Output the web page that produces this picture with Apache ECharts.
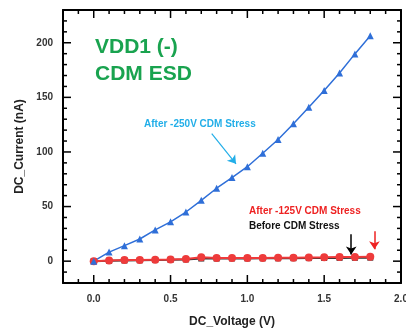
<!DOCTYPE html>
<html>
<head>
<meta charset="utf-8">
<script src="https://cdn.jsdelivr.net/npm/echarts@6/dist/echarts.min.js"></script>
<style>
html, body { margin: 0; padding: 0; background: #fff; }
#chart { width: 406px; height: 329px; }
</style>
</head>
<body>
<div id="chart"></div>
<script>
// voltage steps (V)
var voltage = [0, 0.1, 0.2, 0.3, 0.4, 0.5, 0.6, 0.7, 0.8, 0.9, 1.0, 1.1, 1.2, 1.3, 1.4, 1.5, 1.6, 1.7, 1.8];
// current (nA)
var after250 = [0, 8.3, 14.2, 20.3, 28.6, 36, 45, 55.7, 66.8, 76.6, 86.5, 98.8, 111.4, 125.8, 140.9, 156.3, 172.3, 189.8, 206.5];
var after125 = [0, 0.6, 1, 1.1, 1.3, 1.5, 2, 3.6, 3, 3, 3, 3, 3.1, 3.2, 3.4, 3.5, 3.7, 3.9, 4];
var before = [0, 0.3, 0.6, 0.8, 1, 1.2, 1.6, 2.4, 2.4, 2.5, 2.5, 2.6, 2.6, 2.7, 2.8, 2.9, 3, 3.1, 3.2];
// tick marks
var xLabels = [0, 0.5, 1.0, 1.5, 2.0];
var yLabels = [0, 50, 100, 150, 200];
var xTicks = [-0.1, 0, 0.1, 0.2, 0.3, 0.4, 0.5, 0.6, 0.7, 0.8, 0.9, 1.0, 1.1, 1.2, 1.3, 1.4, 1.5, 1.6, 1.7, 1.8, 1.9];
var yTicks = [-10, 0, 10, 20, 30, 40, 50, 60, 70, 80, 90, 100, 110, 120, 130, 140, 150, 160, 170, 180, 190, 200, 210, 220];

var X_MIN = -0.2, X_MAX = 2.0, Y_MIN = -20, Y_MAX = 230;

function pairs(ys) {
    var out = [];
    for (var i = 0; i < voltage.length; i++) out.push([voltage[i], ys[i]]);
    return out;
}
function isMajor(v, list) {
    for (var i = 0; i < list.length; i++) if (Math.abs(list[i] - v) < 1e-6) return true;
    return false;
}

var chart = echarts.init(document.getElementById('chart'));
var font = 'Liberation Sans, Arial, sans-serif';
var tickLine = {stroke: '#000', lineWidth: 1.5};

function renderXTick(params, api) {
    var v = api.value(0);
    var len = isMajor(v, xLabels) ? 8 : 4;
    var b = api.coord([v, Y_MIN]);
    var t = api.coord([v, Y_MAX]);
    return {type: 'group', children: [
        {type: 'line', shape: {x1: b[0], y1: b[1], x2: b[0], y2: b[1] - len}, style: tickLine},
        {type: 'line', shape: {x1: t[0], y1: t[1], x2: t[0], y2: t[1] + len}, style: tickLine}
    ]};
}
function renderYTick(params, api) {
    var v = api.value(1);
    var len = isMajor(v, yLabels) ? 8 : 4;
    var l = api.coord([X_MIN, v]);
    var r = api.coord([X_MAX, v]);
    return {type: 'group', children: [
        {type: 'line', shape: {x1: l[0], y1: l[1], x2: l[0] + len, y2: l[1]}, style: tickLine},
        {type: 'line', shape: {x1: r[0], y1: r[1], x2: r[0] - len, y2: r[1]}, style: tickLine}
    ]};
}

var axisLine = {show: true, onZero: false, lineStyle: {color: '#000', width: 2}};
var labelStyle = {margin: 11, color: '#333', fontWeight: 'bold', fontSize: 10, fontFamily: font};

var option = {
    animation: false,
    grid: {left: 63, right: 5, top: 10, bottom: 46, containLabel: false, outerBoundsMode: 'none'},
    xAxis: [
        {
            type: 'value', position: 'bottom', min: X_MIN, max: X_MAX,
            axisLine: axisLine, axisTick: {show: false}, splitLine: {show: false},
            axisLabel: Object.assign({customValues: xLabels, formatter: function (v) { return v.toFixed(1); }}, labelStyle),
            name: 'DC_Voltage (V)', nameLocation: 'middle', nameGap: 33,
            nameTextStyle: {color: '#222', fontWeight: 'bold', fontSize: 12, fontFamily: font}
        },
        {
            type: 'value', position: 'top', min: X_MIN, max: X_MAX,
            axisLine: axisLine, axisTick: {show: false}, splitLine: {show: false}, axisLabel: {show: false}
        }
    ],
    yAxis: [
        {
            type: 'value', position: 'left', min: Y_MIN, max: Y_MAX,
            axisLine: axisLine, axisTick: {show: false}, splitLine: {show: false},
            axisLabel: Object.assign({customValues: yLabels}, labelStyle, {margin: 10}),
            name: 'DC_Current (nA)', nameLocation: 'middle', nameGap: 34,
            nameTextStyle: {color: '#222', fontWeight: 'bold', fontSize: 12, fontFamily: font}
        },
        {
            type: 'value', position: 'right', min: Y_MIN, max: Y_MAX,
            axisLine: axisLine, axisTick: {show: false}, splitLine: {show: false}, axisLabel: {show: false}
        }
    ],
    series: [
        {
            type: 'custom', silent: true, clip: false, z: 5,
            data: xTicks.map(function (v) { return [v, Y_MIN]; }),
            renderItem: renderXTick
        },
        {
            type: 'custom', silent: true, clip: false, z: 5,
            data: yTicks.map(function (v) { return [X_MIN, v]; }),
            renderItem: renderYTick
        },
        {
            name: 'Before CDM Stress', type: 'line', data: pairs(before),
            symbol: 'rect', symbolSize: 6,
            lineStyle: {color: '#333', width: 2}, itemStyle: {color: '#333'},
            markLine: {
                silent: true, symbol: ['none', 'arrow'], symbolSize: 8, label: {show: false},
                lineStyle: {color: '#000', width: 1.5, type: 'solid'},
                data: [[{coord: [1.676, 24.6]}, {coord: [1.676, 6.2]}]]
            }
        },
        {
            name: 'After -125V CDM Stress', type: 'line', data: pairs(after125),
            symbol: 'circle', symbolSize: 8,
            lineStyle: {color: '#ee3b3b', width: 2}, itemStyle: {color: '#ee3b3b'},
            markLine: {
                silent: true, symbol: ['none', 'arrow'], symbolSize: 8, label: {show: false},
                lineStyle: {color: '#ee2222', width: 1.5, type: 'solid'},
                data: [[{coord: [1.827, 27.4]}, {coord: [1.827, 10.8]}]]
            }
        },
        {
            name: 'After -250V CDM Stress', type: 'line', data: pairs(after250),
            symbol: 'triangle', symbolSize: 7,
            lineStyle: {color: '#2f6fd8', width: 1.5}, itemStyle: {color: '#2f6fd8'},
            markLine: {
                silent: true, symbol: ['none', 'arrow'], symbolSize: 8, label: {show: false},
                lineStyle: {color: '#22aee8', width: 1.2, type: 'solid'},
                data: [[{coord: [0.768, 116.9]}, {coord: [0.926, 89.2]}]]
            }
        }
    ],
    graphic: [
        {type: 'text', left: 95, top: 37, style: {text: 'VDD1 (-)', fill: '#19a34f', font: 'bold 21px ' + font}},
        {type: 'text', left: 95, top: 64, style: {text: 'CDM ESD', fill: '#19a34f', font: 'bold 21px ' + font}},
        {type: 'text', left: 144, top: 119, style: {text: 'After -250V CDM Stress', fill: '#22aee8', font: 'bold 10px ' + font}},
        {type: 'text', left: 249, top: 206, style: {text: 'After -125V CDM Stress', fill: '#ee2222', font: 'bold 10px ' + font}},
        {type: 'text', left: 249, top: 221, style: {text: 'Before CDM Stress', fill: '#111', font: 'bold 10px ' + font}}
    ]
};
chart.setOption(option);
</script>
</body>
</html>
